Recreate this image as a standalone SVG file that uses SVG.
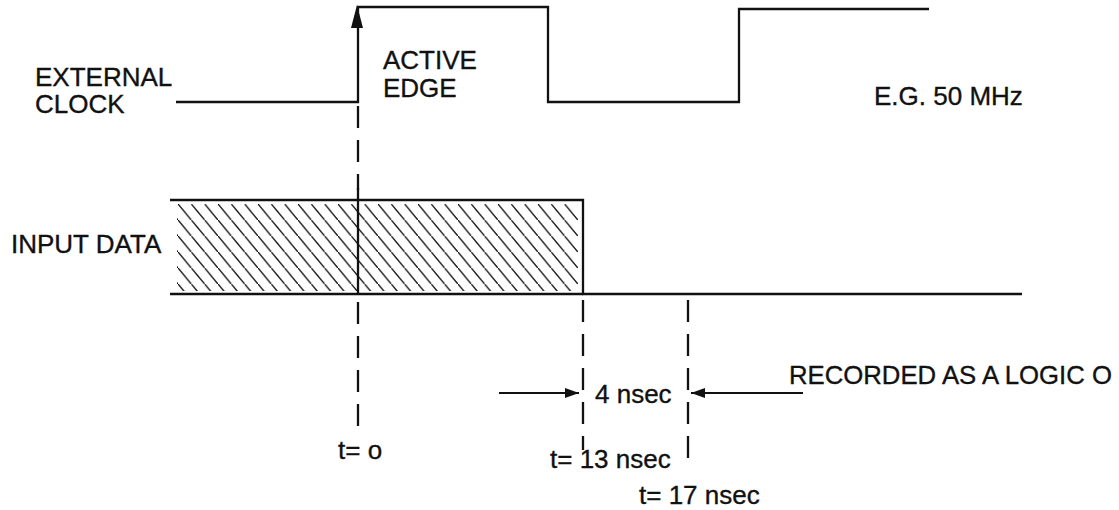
<svg xmlns="http://www.w3.org/2000/svg" width="1119" height="510" viewBox="0 0 1119 510">
<style>
.sig{fill:none;stroke:#111;stroke-width:2.3;stroke-linejoin:miter}
.dash{fill:none;stroke:#111;stroke-width:2.3;stroke-dasharray:22 12}
.ln{fill:none;stroke:#111;stroke-width:2}
.hatch{stroke:#111;stroke-width:1.4}
text{font-family:"Liberation Sans",Arial,Helvetica,sans-serif;font-size:26px;fill:#111;stroke:#111;stroke-width:0.35}
</style>
<defs>
<marker id="ah" viewBox="0 0 14 10" refX="14" refY="5" markerWidth="14" markerHeight="10" markerUnits="userSpaceOnUse" orient="auto">
<path d="M0,0 L14,5 L0,10 Z" fill="#111"/>
</marker>
<pattern id="hp" patternUnits="userSpaceOnUse" x="178" y="204" width="13.33" height="16">
<line class="hatch" x1="-1" y1="-1.2" x2="14.33" y2="17.2"/>
</pattern>
</defs>

<g id="clock-signal">
<path class="sig" d="M176,102 H358 V7 H548 V102 H739 V9 H929"/>
<polygon points="357,5 351,28 363,28" fill="#111"/>
</g>

<g id="input-data">
<rect x="177" y="204" width="401" height="87" fill="url(#hp)"/>
<path class="sig" d="M170,200 H583 V294 H1022"/>
<path class="sig" d="M170,294 H583"/>
</g>

<g id="connectors">
<line class="dash" x1="358" y1="106" x2="358" y2="190"/>
<line class="sig" x1="358" y1="188" x2="358" y2="294"/>
<line class="dash" x1="358" y1="302" x2="358" y2="434"/>
<line class="dash" x1="583" y1="300" x2="583" y2="450"/>
<line class="dash" x1="688" y1="300" x2="688" y2="469"/>
<line class="ln" x1="499" y1="393" x2="579" y2="393" marker-end="url(#ah)"/>
<line class="ln" x1="803" y1="393" x2="691" y2="393" marker-end="url(#ah)"/>
</g>

<g id="labels">
<text x="35" y="86">EXTERNAL</text>
<text x="35" y="113">CLOCK</text>
<text x="11" y="253">INPUT DATA</text>
<text x="383" y="69">ACTIVE</text>
<text x="383" y="97">EDGE</text>
<text x="874" y="105">E.G. 50 MHz</text>
<text x="789" y="384" textLength="323" lengthAdjust="spacingAndGlyphs">RECORDED AS A LOGIC O</text>
<text x="595" y="403">4 nsec</text>
<text x="550" y="468">t= 13 nsec</text>
<text x="639" y="504">t= 17 nsec</text>
<text x="338" y="459">t= o</text>
</g>
</svg>
